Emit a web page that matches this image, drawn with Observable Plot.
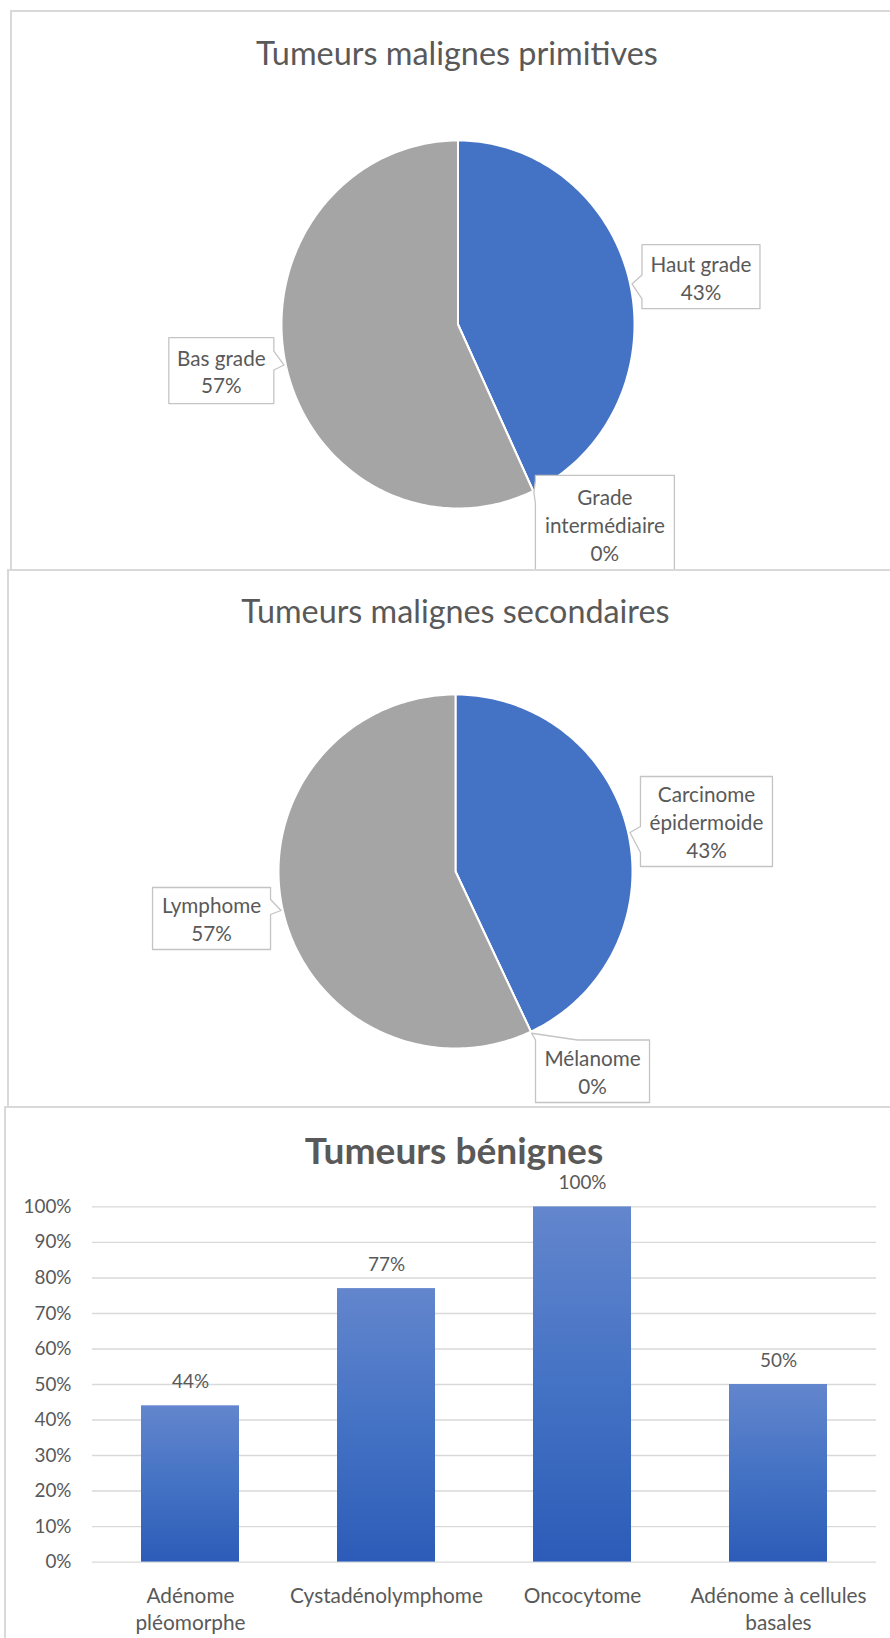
<!DOCTYPE html>
<html><head><meta charset="utf-8">
<script src="https://cdn.jsdelivr.net/npm/d3@7"></script>
<script src="https://cdn.jsdelivr.net/npm/@observablehq/plot@0.6"></script>
<style>
html,body{margin:0;padding:0;background:#fff;}
#page{position:relative;width:890px;height:1638px;overflow:hidden;background:#fff;font-family:Lato,sans-serif;color:#595959;}
.panel{position:absolute;box-sizing:border-box;border:2px solid #d9d9d9;background:#fff;}
.title{position:absolute;text-align:center;white-space:nowrap;color:#595959;font-family:Lato,sans-serif;}
.chart{position:absolute;left:0;}
</style></head><body><div id="page"></div>
<script>
// ---------- DATA ----------
const primCategories = ["Haut grade", "Grade intermédiaire", "Bas grade"];
const primLabelNames = ["Haut grade", "Grade\nintermédiaire", "Bas grade"];
const primValues = [43, 0, 57];

const secCategories = ["Carcinome épidermoide", "Mélanome", "Lymphome"];
const secLabelNames = ["Carcinome\népidermoide", "Mélanome", "Lymphome"];
const secValues = [43, 0, 57];

const sliceColors = ["#4472C4", "#ED7D31", "#A5A5A5"];

const benCategories = ["Adénome pléomorphe", "Cystadénolymphome", "Oncocytome", "Adénome à cellules basales"];
const benTickLabels = ["Adénome\npléomorphe", "Cystadénolymphome", "Oncocytome", "Adénome à cellules\nbasales"];
const benValues = [0.44, 0.77, 1.00, 0.50];
const yTicks = [0, 0.1, 0.2, 0.3, 0.4, 0.5, 0.6, 0.7, 0.8, 0.9, 1.0];

const titles = ["Tumeurs malignes primitives", "Tumeurs malignes secondaires", "Tumeurs bénignes"];

// ---------- helpers ----------
const ctx = document.createElement("canvas").getContext("2d");
function fit(text, target, weight = 400) {
  ctx.font = `${weight} 100px Lato`;
  return 100 * target / ctx.measureText(text).width;
}
function metrics(size, weight = 400) {
  ctx.font = `${weight} ${size}px Lato`;
  const m = ctx.measureText("Tg");
  return {asc: m.fontBoundingBoxAscent, desc: m.fontBoundingBoxDescent};
}
const page = document.getElementById("page");
function addPanel(left, top, height) {
  const d = document.createElement("div");
  d.className = "panel";
  Object.assign(d.style, {left: left + "px", top: top + "px", width: "890px", height: height + "px"});
  page.appendChild(d);
}
function addTitle(text, centerX, baseline, target, weight) {
  const size = fit(text, target, weight);
  const {asc, desc} = metrics(size, weight);
  const d = document.createElement("div");
  d.className = "title";
  d.textContent = text;
  Object.assign(d.style, {
    left: (centerX - 300) + "px", width: "600px",
    top: (baseline - asc) + "px", fontSize: size + "px",
    lineHeight: (asc + desc) + "px", fontWeight: weight
  });
  page.appendChild(d);
}
function addChart(svg, top) {
  svg.classList.add("chart");
  svg.style.position = "absolute";
  svg.style.left = "0px";
  svg.style.top = top + "px";
  page.appendChild(svg);
}

const labelFont = fit("intermédiaire", 120);
const labelLine = 28;

function pieChart(cats, names, vals, L) {
  const {cx, cy, rx, ry, top, height, boxes} = L;
  const total = d3.sum(vals);
  let acc = 0;
  const slices = cats.map((c, i) => {
    const a0 = acc / total * 2 * Math.PI; acc += vals[i];
    const a1 = acc / total * 2 * Math.PI;
    return {c, v: vals[i], a0, a1, mid: (a0 + a1) / 2, color: sliceColors[i], name: names[i]};
  });
  const sliceMarks = slices.map(s => {
    const n = Math.max(1, Math.ceil((s.a1 - s.a0) / (Math.PI / 180)));
    const pts = [{x: 0, y: 0}];
    for (let k = 0; k <= n; k++) {
      const a = s.a0 + (s.a1 - s.a0) * k / n;
      pts.push({x: Math.sin(a), y: Math.cos(a)});
    }
    pts.push({x: 0, y: 0});
    return Plot.line(pts, {x: "x", y: "y", fill: s.color, stroke: "white", strokeWidth: 2, strokeLinejoin: "round"});
  });
  // pixel <-> data helpers (svg coords relative to top)
  const cyS = cy - top;
  const toData = ([px, py]) => ({x: (px - cx) / rx, y: -(py - cyS) / ry});
  const labelMarks = slices.flatMap((s, i) => {
    const b = boxes[i];
    const f = 1.01;
    const tx = cx + rx * f * Math.sin(s.mid);
    const ty = cyS - ry * f * Math.cos(s.mid);
    const bx = tx + b.dx, by = ty + b.dy;
    const Lx = bx - b.w / 2, R = bx + b.w / 2, T = by - b.h / 2, B = by + b.h / 2;
    let poly;
    if (b.side === "left") poly = [[Lx, T], [R, T], [R, B], [Lx, B], [Lx, ty + b.d2], [tx, ty], [Lx, ty - b.d1], [Lx, T]];
    else if (b.side === "right") poly = [[Lx, T], [R, T], [R, ty - b.d1], [tx, ty], [R, ty + b.d2], [R, B], [Lx, B], [Lx, T]];
    else poly = [[Lx + b.d1, T], [tx, ty], [Lx + b.d2, T], [R, T], [R, B], [Lx, B], [Lx, T], [Lx + b.d1, T]];
    const c = toData([bx, by]);
    return [
      Plot.line(poly.map(toData), {x: "x", y: "y", fill: "white", stroke: "#c4c4c4", strokeWidth: 1.3}),
      Plot.text([s], {x: () => c.x, y: () => c.y, text: d => `${d.name}\n${d.v}%`, fontSize: labelFont, lineHeight: labelLine / labelFont, fill: "#595959", fontFamily: "Lato"})
    ];
  });
  return Plot.plot({
    width: 890, height,
    style: {background: "transparent", overflow: "hidden", fontFamily: "Lato"},
    x: {domain: [-1, 1], range: [cx - rx, cx + rx], axis: null},
    y: {domain: [-1, 1], range: [cyS + ry, cyS - ry], axis: null},
    marks: [...sliceMarks, ...labelMarks]
  });
}

// ---------- Panel 1 ----------
addPanel(10, 10, 561);
addTitle(titles[0], 457, 64.7, 402, 400);
addChart(pieChart(primCategories, primLabelNames, primValues, {
  cx: 457.5, cy: 324, rx: 176.5, ry: 184, top: 0, height: 569,
  boxes: [
    {side: "left", dx: 69, dy: -7.3, w: 118, h: 64, d1: 9, d2: 15},
    {side: "left", dx: 71, dy: 31.3, w: 139, h: 97, d1: 12, d2: 11},
    {side: "right", dx: -62.7, dy: 5.5, w: 105, h: 66, d1: 14, d2: 5}
  ]
}), 0);

// ---------- Panel 2 ----------
addPanel(7, 569, 539);
addTitle(titles[1], 455.4, 623.1, 428.5, 400);
addChart(pieChart(secCategories, secLabelNames, secValues, {
  cx: 455, cy: 871, rx: 177, ry: 177, top: 571, height: 535,
  boxes: [
    {side: "left", dx: 76.5, dy: -11, w: 132, h: 90, d1: 6, d2: 20},
    {side: "top", dx: 60.9, dy: 38, w: 114, h: 62.5, d1: 0, d2: 42},
    {side: "right", dx: -69.5, dy: 8, w: 118, h: 62, d1: 11, d2: 4}
  ]
}), 571);

// ---------- Panel 3 ----------
addPanel(4, 1106, 600);
addTitle(titles[2], 454, 1163.5, 298.5, 700);
const tickFont = fit("100%", 48);
const xFont = fit("Cystadénolymphome", 193);
const benData = benCategories.map((c, i) => ({cat: c, value: benValues[i]}));
const svgTop3 = 1108;
const barSvg = Plot.plot({
  width: 890, height: 530,
  marginLeft: 92, marginRight: 14,
  marginTop: 1206.4 - svgTop3, marginBottom: 530 - (1561.6 - svgTop3),
  style: {background: "transparent", overflow: "hidden", fontFamily: "Lato", color: "#595959"},
  x: {domain: benCategories, paddingInner: 0.5, paddingOuter: 0.25, label: null},
  y: {domain: [0, 1], label: null},
  marks: [
    Plot.gridY(yTicks, {stroke: "#d9d9d9", strokeOpacity: 1, strokeWidth: 1.4}),
    Plot.barY(benData, {x: "cat", y: "value", fill: "url(#benGrad)"}),
    Plot.text(benData, {x: "cat", y: "value", text: d => Math.round(d.value * 100) + "%", dy: -24, fontSize: tickFont, fill: "#595959"}),
    Plot.axisY(yTicks, {tickSize: 0, tickPadding: 21, tickFormat: d3.format(".0%"), fontSize: tickFont, fill: "#595959"}),
    Plot.axisX({tickSize: 0, tickPadding: 22.5, fontSize: xFont, lineHeight: 26.6 / xFont, fill: "#595959",
      tickFormat: d => benTickLabels[benCategories.indexOf(d)]})
  ]
});
barSvg.insertAdjacentHTML("afterbegin",
  '<defs><linearGradient id="benGrad" x1="0" y1="0" x2="0" y2="1">' +
  '<stop offset="0" stop-color="#6386cd"/><stop offset="0.5" stop-color="#4472c4"/><stop offset="1" stop-color="#2c5cb8"/>' +
  '</linearGradient></defs>');
addChart(barSvg, svgTop3);
</script></body></html>
